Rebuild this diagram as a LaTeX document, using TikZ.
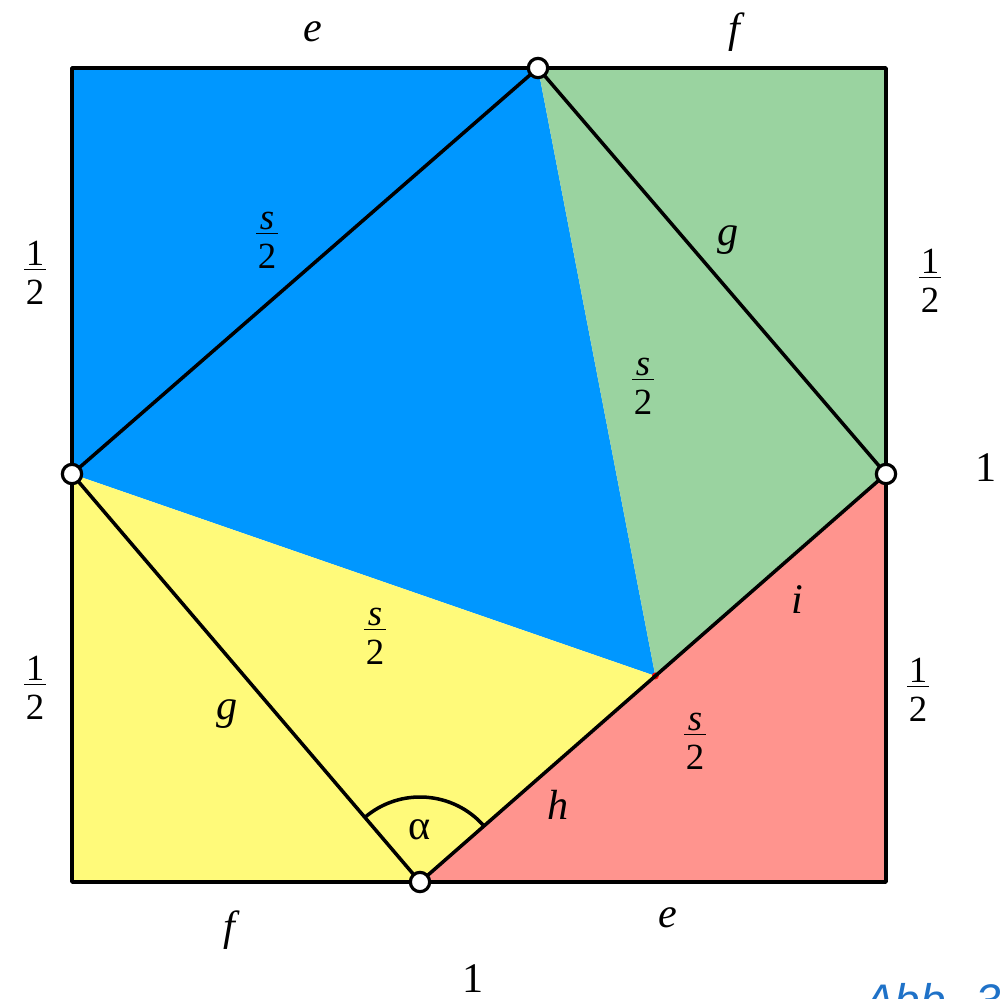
\documentclass[tikz,border=0pt]{standalone}
\usepackage{fontspec}
\setmainfont{Liberation Serif}
\setsansfont{Liberation Sans}
\usepackage{xcolor}
\usepackage{tikz}
\usetikzlibrary{calc}

\definecolor{blaufl}{HTML}{0097FF}
\definecolor{gruenfl}{HTML}{9AD3A0}
\definecolor{gelbfl}{HTML}{FFFA7A}
\definecolor{rotfl}{HTML}{FF948E}
\definecolor{abbblau}{HTML}{1F72C8}

\newcommand{\frk}[1]{\begin{tabular}{@{\hspace{1pt}}c@{\hspace{1pt}}}\fontsize{21}{21}\selectfont #1\\[-6pt]\hline\fontsize{21}{21}\selectfont 2\end{tabular}}

\tikzset{
    kante/.style={line width=2pt, line join=round},
    punkt/.style={circle, draw=black, fill=white, line width=1.8pt, minimum size=11pt, inner sep=0pt},
    lbl/.style={inner sep=0pt, font=\fontsize{24}{28}\selectfont}
}

\begin{document}
\begin{tikzpicture}[x=0.02cm, y=-0.02cm]
        \useasboundingbox (0,0) rectangle (1007,998);
        
        % corners and points on the sides
        \coordinate (A) at (72,68);
        \coordinate (B) at (886,68);
        \coordinate (C) at (886,882);
        \coordinate (D) at (72,882);
        \coordinate (T) at (538,68);
        \coordinate (L) at (72,474);
        \coordinate (R) at (886,474);
        \coordinate (U) at (420,882);
        \coordinate (P) at ($(U)!0.505!(R)$);
        
        % coloured areas
        \fill[blaufl] (A) -- (T) -- (P) -- (L) -- cycle;
        \fill[gruenfl] (T) -- (B) -- (R) -- (P) -- cycle;
        \fill[gelbfl] (L) -- (P) -- (U) -- (D) -- cycle;
        \fill[rotfl] (P) -- (R) -- (C) -- (U) -- cycle;
        \fill[red] (P) circle (2pt);
        
        % lines
        \draw[kante] (A) rectangle (C);
        \draw[kante] (L) -- (T) -- (R) -- (U) -- (L);
        \draw[kante] ($(U)!1.7cm!(L)$) arc[start angle=130.5, end angle=41.2, radius=1.7cm];
        
        \node[punkt] (pT) at (T) {};
        \node[punkt] (pL) at (L) {};
        \node[punkt] (pR) at (R) {};
        \node[punkt] (pU) at (U) {};
        
        % labels
        \node[lbl] (eo) at (313,32) {\textit{e}};
        \node[lbl] (fo) at (737,32) {\textit{f}};
        \node[lbl] (hlo) at (35,275) {\frk{1}};
        \node[lbl] (hro) at (930,283) {\frk{1}};
        \node[lbl] (hlu) at (35,690) {\frk{1}};
        \node[lbl] (hru) at (918,692) {\frk{1}};
        \node[lbl] (eins) at (986,468) {1};
        \node[lbl] (einsu) at (473,979) {1};
        \node[lbl] (s1) at (267,239) {\frk{\textit{s}}};
        \node[lbl] (s2) at (643,385) {\frk{\textit{s}}};
        \node[lbl] (s3) at (375,635) {\frk{\textit{s}}};
        \node[lbl] (s4) at (695,740) {\frk{\textit{s}}};
        \node[lbl] (go) at (728,240) {\textit{g}};
        \node[lbl] (gu) at (227,714) {\textit{g}};
        \node[lbl] (i) at (797,600) {\textit{i}};
        \node[lbl] (h) at (558,805) {\textit{h}};
        \node[lbl] (alpha) at (420,830) {α};
        \node[lbl] (fu) at (232,930) {\textit{f}};
        \node[lbl] (eu) at (668,918) {\textit{e}};
        \node[lbl, anchor=north west, abbblau, font=\sffamily\itshape\fontsize{26}{30}\selectfont] (abb) at (864,983) {Abb. 3};
    \end{tikzpicture}
\end{document}
